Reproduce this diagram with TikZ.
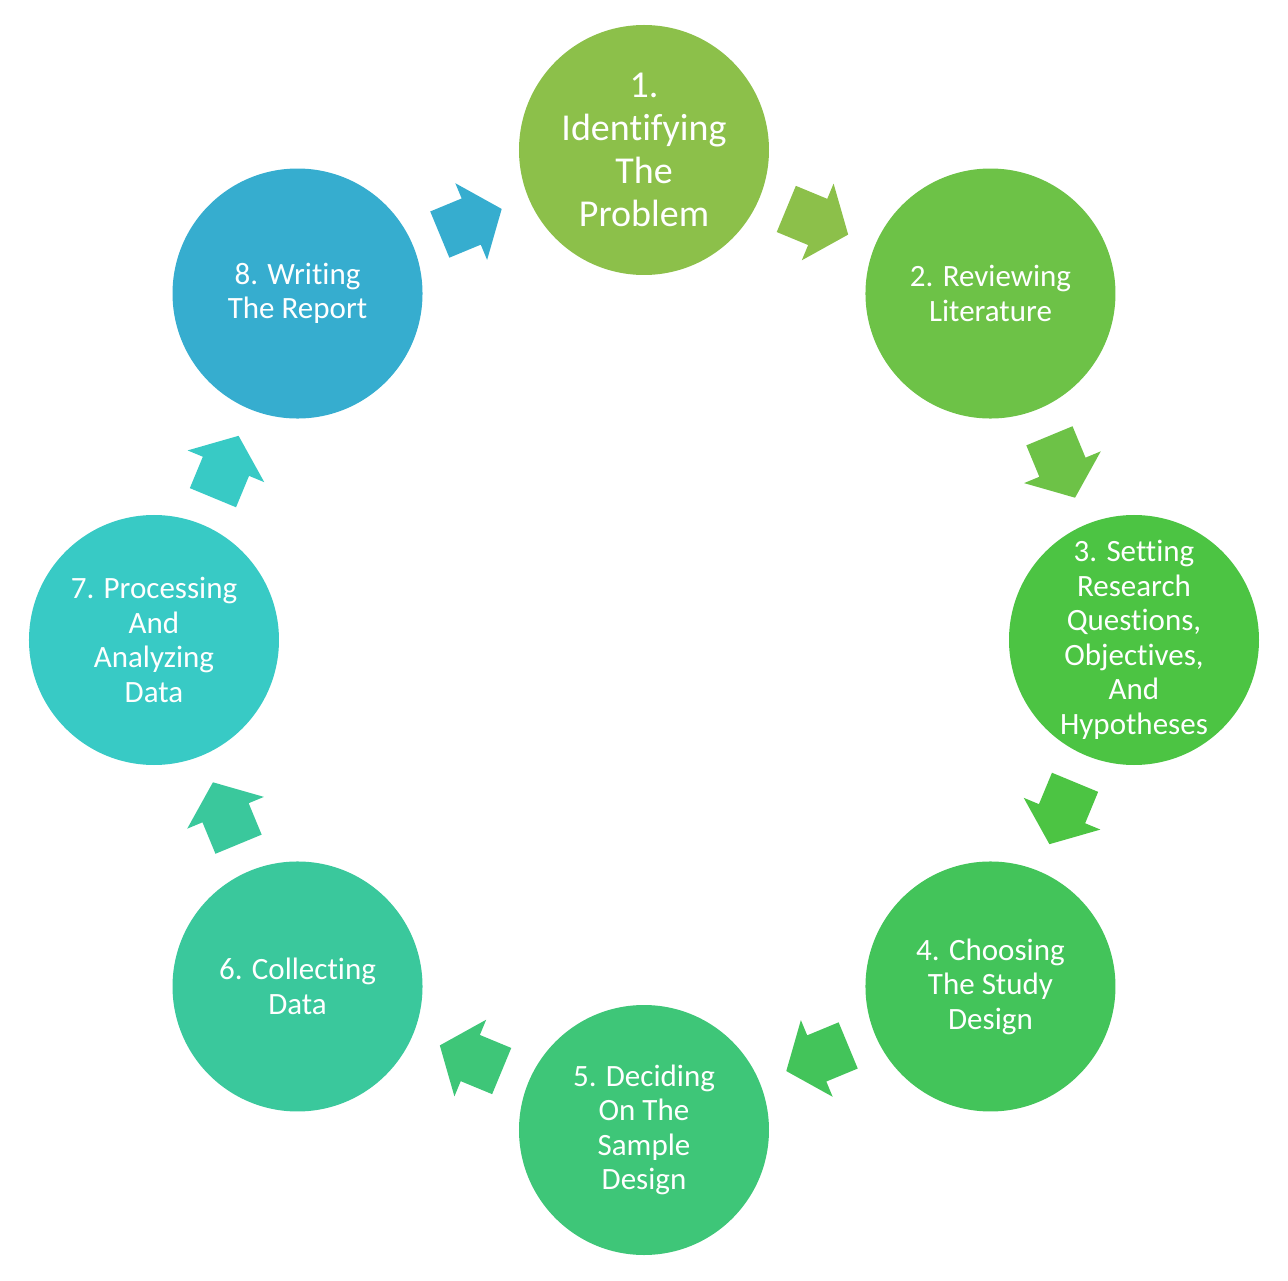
\documentclass[tikz,border=0pt]{standalone}
\usepackage{fontspec}
\setmainfont{Carlito}[Ligatures=NoCommon]
\usetikzlibrary{calc}
\definecolor{col1}{HTML}{8CC04A}
\definecolor{col2}{HTML}{6DC247}
\definecolor{col3}{HTML}{4CC443}
\definecolor{col4}{HTML}{43C45A}
\definecolor{col5}{HTML}{3EC678}
\definecolor{col6}{HTML}{3AC89C}
\definecolor{col7}{HTML}{38CAC5}
\definecolor{col8}{HTML}{36ADCF}
\tikzset{
  stepcircle/.style={circle, minimum size=250pt, inner sep=0pt, text=white, align=center,
    font=\fontsize{31}{34.5}\selectfont},
  pics/blockarrow/.style={code={
    \fill[#1] (-33.5,-25) -- (0.5,-25) -- (0.5,-41.5) -- (33.5,0) -- (0.5,41.5) -- (0.5,25) -- (-33.5,25) -- cycle;}}
}
\begin{document}
\begin{tikzpicture}[x=1pt,y=1pt]
\useasboundingbox (-644,-640) rectangle (644,640);
\node[stepcircle, fill=col1, font=\fontsize{38}{43}\selectfont] (n1) at (90:490) {1.\\Identifying\\The\\Problem};
\node[stepcircle, fill=col2] (n2) at (45:490) {2. Reviewing\\Literature};
\node[stepcircle, fill=col3] (n3) at (0:490) {3. Setting\\Research\\Questions,\\Objectives,\\And\\Hypotheses};
\node[stepcircle, fill=col4] (n4) at (-45:490) {4. Choosing\\The Study\\Design};
\node[stepcircle, fill=col5] (n5) at (-90:490) {5. Deciding\\On The\\Sample\\Design};
\node[stepcircle, fill=col6] (n6) at (-135:490) {6. Collecting\\Data};
\node[stepcircle, fill=col7] (n7) at (180:490) {7. Processing\\And\\Analyzing\\Data};
\node[stepcircle, fill=col8] (n8) at (135:490) {8. Writing\\The Report};
\coordinate (a12) at ($(n1.center)!0.5!(n2.center)$);
\coordinate (a23) at ($(n2.center)!0.5!(n3.center)$);
\coordinate (a34) at ($(n3.center)!0.5!(n4.center)$);
\coordinate (a45) at ($(n4.center)!0.5!(n5.center)$);
\coordinate (a56) at ($(n5.center)!0.5!(n6.center)$);
\coordinate (a67) at ($(n6.center)!0.5!(n7.center)$);
\coordinate (a78) at ($(n7.center)!0.5!(n8.center)$);
\coordinate (a81) at ($(n8.center)!0.5!(n1.center)$);
\pic[rotate=-22.5] at (a12) {blockarrow=col1};
\pic[rotate=-67.5] at (a23) {blockarrow=col2};
\pic[rotate=-112.5] at (a34) {blockarrow=col3};
\pic[rotate=-157.5] at (a45) {blockarrow=col4};
\pic[rotate=-202.5] at (a56) {blockarrow=col5};
\pic[rotate=-247.5] at (a67) {blockarrow=col6};
\pic[rotate=-292.5] at (a78) {blockarrow=col7};
\pic[rotate=-337.5] at (a81) {blockarrow=col8};
\end{tikzpicture}
\end{document}
